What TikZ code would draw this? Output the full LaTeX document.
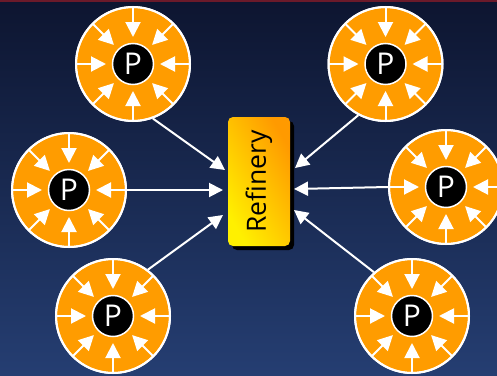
\documentclass[tikz,border=0pt]{standalone}
\usepackage{fontspec}
\setmainfont{Open Sans}
\usetikzlibrary{arrows.meta,shadows}
\definecolor{bgtop}{HTML}{0D1530}
\definecolor{bgbot}{HTML}{253E72}
\definecolor{podorange}{HTML}{FF9C00}
\definecolor{topline}{HTML}{6B1A2A}
\definecolor{refyellow}{HTML}{FFF000}
\definecolor{reforange}{HTML}{FF9A00}
\tikzset{
  podouter/.style={circle, draw=white, line width=2pt, fill=podorange, minimum size=114pt, inner sep=0pt},
  podinner/.style={circle, draw=white, line width=1.5pt, fill=black, minimum size=41pt, inner sep=0pt,
    text=white, font=\fontsize{30}{30}\selectfont},
  podarrow/.style={white, line width=2pt, -{Triangle[length=15pt,width=15pt]}},
  flow/.style={white, line width=2pt, -{Triangle[length=14pt,width=14pt]}},
  refbox/.style={rounded corners=5pt, minimum width=62pt, minimum height=129pt, inner sep=0pt,
    left color=refyellow, right color=reforange, shading angle=120,
    drop shadow={shadow xshift=4pt, shadow yshift=-4pt, fill=black, opacity=1}}
}
\newcommand\podunit[3]{%
  \begin{scope}[shift={(#2,#3)}]
    \node[podouter] (#1) at (0,0) {};
    \foreach \a in {0,45,...,315} {\draw[podarrow] (\a:57) -- (\a:27);}
    \draw[white, line width=2pt] (0,0) circle (57);
    \node[podinner] (#1in) at (0,0) {P};
  \end{scope}}
\begin{document}
\begin{tikzpicture}[x=1pt,y=-1pt]
\useasboundingbox (0,0) rectangle (497,375);
\shade[top color=bgtop, bottom color=bgbot] (0,0) rectangle (497,375);
\fill[topline] (0,0) rectangle (497,1.5);

\podunit{tl}{133}{64}
\podunit{tr}{385.5}{64}
\podunit{ml}{69}{190}
\podunit{mr}{446}{187}
\podunit{bl}{113}{316}
\podunit{br}{412}{316}

\node[refbox] (ref) at (259,181.5) {\rotatebox{90}{\fontsize{26.5}{26.5}\selectfont Refinery}};

\coordinate (ttl) at (225,170);
\coordinate (tml) at (223,190);
\coordinate (tbl) at (223,215);
\coordinate (ttr) at (295,168);
\coordinate (tmr) at (294,189);
\coordinate (tbr) at (294,210);

\draw[flow] (tl.-70) -- (ttl);
\draw[flow] (ml.0) -- (tml);
\draw[flow] (bl.53) -- (tbl);
\draw[flow] (tr.-118) -- (ttr);
\draw[flow] (mr.180) -- (tmr);
\draw[flow] (br.131) -- (tbr);
\end{tikzpicture}
\end{document}
